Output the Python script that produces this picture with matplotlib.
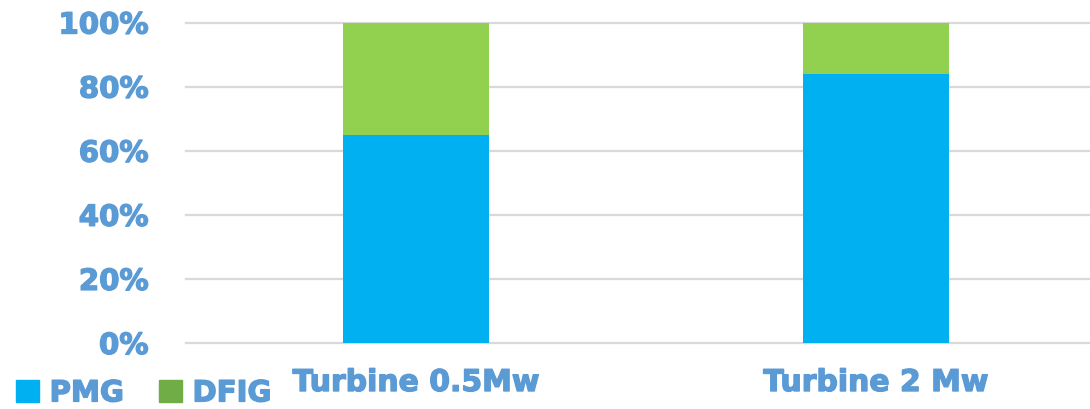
import numpy as np
import matplotlib
matplotlib.use("Agg")
import matplotlib.pyplot as plt
import matplotlib.patheffects as pe
from matplotlib.patches import Patch

categories = ["Turbine 0.5Mw", "Turbine 2 Mw"]
pmg = [65, 84]
dfig = [35, 16]
yticks = [0, 20, 40, 60, 80, 100]

label_color = "#5B9BD5"
pmg_color = "#00B0F0"
dfig_color = "#92D050"
dfig_legend_color = "#70AD47"
grid_color = "#D9D9D9"

# thicker strokes so the bold labels read heavier
heavy = [pe.withStroke(linewidth=1.0, foreground=label_color)]

fig = plt.figure(figsize=(10.9, 4.1), dpi=100)
ax = fig.add_axes([186 / 1090, 66 / 410, 1 - 186 / 1090, 320.5 / 410])

x = np.arange(len(categories))
width = 0.318
ax.bar(x, pmg, width, color=pmg_color, zorder=2)
ax.bar(x, dfig, width, bottom=pmg, color=dfig_color, zorder=2)

ax.set_xlim(-0.5, 1.465)
ax.set_ylim(0, 100)
ax.set_yticks(yticks)
ax.set_yticklabels([f"{v}%" for v in yticks])
ax.set_xticks(x)
ax.set_xticklabels(categories)

ax.yaxis.grid(True, color=grid_color, linewidth=1.6, zorder=0)
ax.set_axisbelow(True)
for line in ax.get_ygridlines():
    line.set_clip_on(False)
for s in ax.spines.values():
    s.set_visible(False)

ax.tick_params(axis="y", length=0, pad=27, labelsize=21, labelcolor=label_color)
ax.tick_params(axis="x", length=0, pad=18, labelsize=21.5, labelcolor=label_color)
for lab in ax.get_xticklabels() + ax.get_yticklabels():
    lab.set_fontweight("bold")
    lab.set_path_effects(heavy)

handles = [Patch(color=pmg_color, label="PMG"), Patch(color=dfig_legend_color, label="DFIG")]
leg = fig.legend(handles=handles, loc="center left", bbox_to_anchor=(0.004, 0.038),
                 ncol=2, frameon=False, handlelength=0.8, handleheight=0.8,
                 handletextpad=0.35, columnspacing=1.2, borderaxespad=0, borderpad=0.4,
                 prop={"size": 21, "weight": "bold"})
for t in leg.get_texts():
    t.set_color(label_color)
    t.set_path_effects(heavy)

fig.savefig("out.png", dpi=100)
